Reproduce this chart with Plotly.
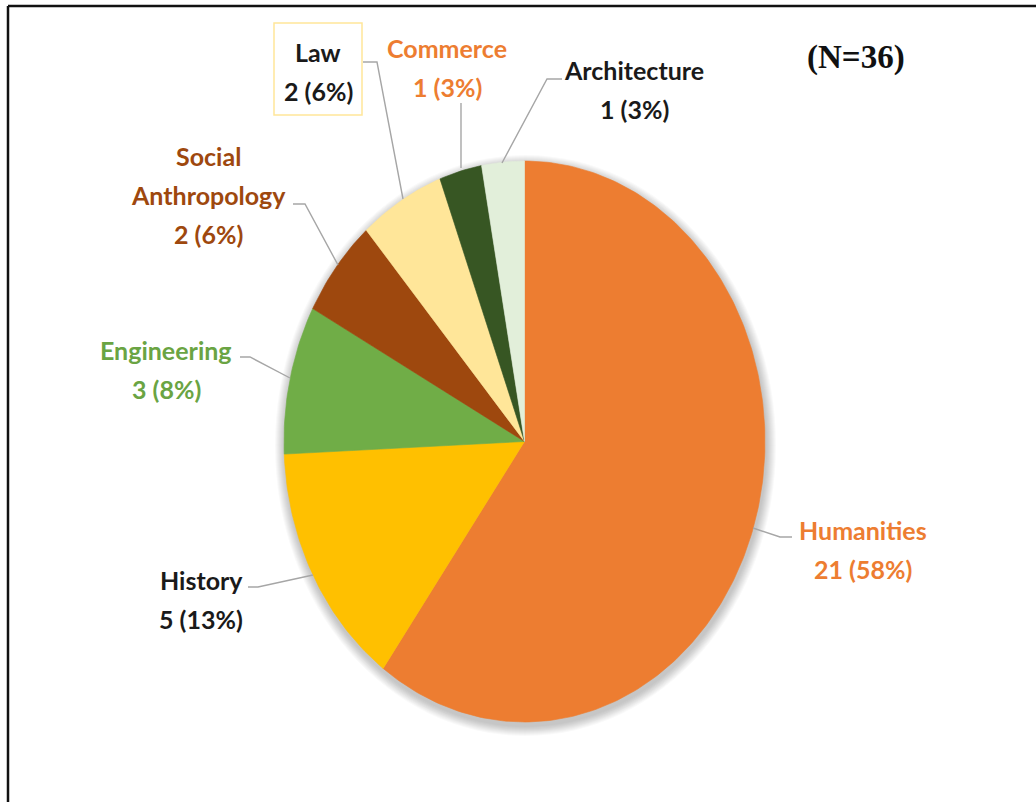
import numpy as np
import plotly.graph_objects as go

# Field of study of respondents
categories = ["Humanities", "History", "Engineering", "Social<br>Anthropology",
              "Law", "Commerce", "Architecture"]
counts = [21, 5, 3, 2, 2, 1, 1]
pct_labels = ["58%", "13%", "8%", "6%", "6%", "3%", "3%"]
sample_note = "(N=36)"

slice_colors = ["#ED7D31", "#FFC000", "#70AD47", "#9E480E", "#FFE699", "#375623", "#E2EFDA"]
text_colors = ["#ED7D31", "#1A1A1A", "#6AA443", "#9E480E", "#1A1A1A", "#ED7D31", "#1A1A1A"]

# Canvas in pixel units; the pie is drawn as an ellipse
W, H = 1036, 802
CX, CY, RX, RY = 524.5, 441.5, 240.5, 280.5

# Label anchor (centre x, first line y) for each category
label_pos = {
    "Humanities": (863, 530),
    "History": (201, 580),
    "Engineering": (166, 350),
    "Social<br>Anthropology": (208, 156),
    "Law": (318, 52),
    "Commerce": (447, 48),
    "Architecture": (634, 70),
}
LINE_GAP = 39

# Leader lines from labels to slices
leaders = {
    "Humanities": [(792, 537), (780, 537), (753, 528)],
    "History": [(248, 587), (258, 587), (313, 575)],
    "Engineering": [(240, 357), (250, 357), (290, 378)],
    "Social<br>Anthropology": [(293, 204), (305, 204), (338, 265)],
    "Law": [(363, 62), (377, 62), (403, 199)],
    "Commerce": [(461, 103), (461, 168)],
    "Architecture": [(562, 79), (547, 79), (502, 163)],
}

fig = go.Figure()

total = sum(counts)
start = 0.0
for name, cnt, col in zip(categories, counts, slice_colors):
    frac = cnt / total
    th = np.linspace(start, start + frac, max(int(frac * 400), 8)) * 2 * np.pi
    xs = np.concatenate([[CX], CX + RX * np.sin(th), [CX]])
    ys = np.concatenate([[CY], CY - RY * np.cos(th), [CY]])
    fig.add_trace(go.Scatter(
        x=xs, y=ys, mode="lines", fill="toself", fillcolor=col,
        line=dict(color=col, width=0.6), hoverinfo="text",
        text=f"{name.replace('<br>', ' ')}: {cnt}", showlegend=False,
    ))
    start += frac

shapes = []
# soft drop shadow behind the pie
for k in range(10, 0, -1):
    shapes.append(dict(type="circle", xref="x", yref="y", layer="below",
                       x0=CX - RX - k + 1, x1=CX + RX + k + 1,
                       y0=CY - RY - k + 4, y1=CY + RY + k + 4,
                       fillcolor="rgba(0,0,0,0.022)", line=dict(width=0)))

for name, pts in leaders.items():
    path = "M " + " L ".join(f"{x},{y}" for x, y in pts)
    shapes.append(dict(type="path", xref="x", yref="y", path=path,
                       line=dict(color="#A6A6A6", width=1.4)))

# outlined label box for Law
shapes.append(dict(type="rect", xref="x", yref="y", x0=274, x1=362, y0=23, y1=115,
                   line=dict(color="#FFE699", width=1.5), fillcolor="rgba(0,0,0,0)"))

# frame lines along the top and left edges
shapes.append(dict(type="line", xref="paper", yref="paper", x0=8 / W, x1=1, y0=1 - 6 / H, y1=1 - 6 / H,
                   line=dict(color="#111111", width=2.5)))
shapes.append(dict(type="line", xref="paper", yref="paper", x0=8 / W, x1=8 / W, y0=0, y1=1 - 6 / H,
                   line=dict(color="#111111", width=2.5)))

annotations = []
for name, cnt, pct, tc in zip(categories, counts, pct_labels, text_colors):
    x0, y0 = label_pos[name]
    lines = name.split("<br>") + [f"{cnt} ({pct})"]
    for i, line in enumerate(lines):
        annotations.append(dict(
            x=x0, y=y0 + i * LINE_GAP, xref="x", yref="y", text=f"<b>{line}</b>",
            showarrow=False, xanchor="center", yanchor="middle",
            font=dict(family="Lato", size=25, color=tc),
        ))

annotations.append(dict(
    x=856, y=57, xref="x", yref="y", text=f"<b>{sample_note}</b>", showarrow=False,
    xanchor="center", yanchor="middle",
    font=dict(family="Liberation Serif", size=33, color="#111111"),
))

fig.update_layout(
    width=W, height=H, margin=dict(l=0, r=0, t=0, b=0),
    paper_bgcolor="white", plot_bgcolor="white",
    xaxis=dict(range=[0, W], visible=False, fixedrange=True),
    yaxis=dict(range=[H, 0], visible=False, fixedrange=True),
    shapes=shapes, annotations=annotations, showlegend=False,
)

fig.write_html("out.html")
